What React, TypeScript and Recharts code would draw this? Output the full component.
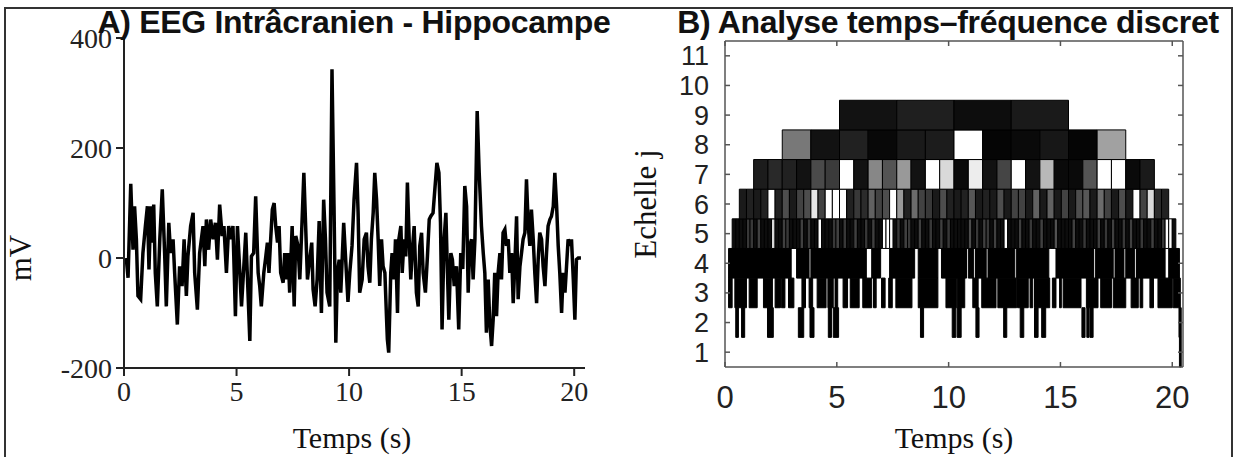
import React from "react";
import {
  LineChart,
  Line,
  ComposedChart,
  Scatter,
  ReferenceArea,
  XAxis,
  YAxis,
} from "recharts";

// A) intracranial EEG, hippocampus (s, mV)
const eegTime = [
  0.1, 0.18, 0.3, 0.4, 0.47, 0.55, 0.62, 0.74, 0.84, 0.95, 1.04, 1.11, 1.19, 1.26, 1.32, 1.39, 1.48,
  1.59, 1.7, 1.81, 1.88, 1.99, 2.07, 2.18, 2.25, 2.37, 2.47, 2.58, 2.67, 2.77, 2.84, 2.96, 3.07, 3.14,
  3.26, 3.36, 3.51, 3.59, 3.66, 3.76, 3.85, 3.96, 4.06, 4.15, 4.25, 4.36, 4.44, 4.55, 4.65, 4.74, 4.84,
  4.95, 5.04, 5.14, 5.22, 5.29, 5.41, 5.47, 5.59, 5.66, 5.76, 5.85, 5.96, 6.03, 6.1, 6.21, 6.3, 6.37,
  6.44, 6.5, 6.59, 6.67, 6.74, 6.82, 6.89, 6.96, 7.07, 7.14, 7.22, 7.29, 7.36, 7.47, 7.56, 7.63, 7.73,
  7.81, 7.88, 7.99, 8.07, 8.15, 8.25, 8.34, 8.4, 8.49, 8.58, 8.67, 8.77, 8.87, 8.95, 9.02, 9.14, 9.24,
  9.33, 9.41, 9.48, 9.56, 9.63, 9.76, 9.88, 9.95, 10.03, 10.13, 10.22, 10.33, 10.4, 10.47, 10.58, 10.67,
  10.77, 10.84, 10.92, 10.99, 11.07, 11.14, 11.22, 11.29, 11.36, 11.44, 11.51, 11.59, 11.66, 11.7,
  11.76, 11.85, 11.91, 12.0, 12.06, 12.15, 12.21, 12.3, 12.36, 12.44, 12.52, 12.59, 12.67, 12.74, 12.8,
  12.89, 12.99, 13.07, 13.14, 13.22, 13.29, 13.39, 13.48, 13.56, 13.63, 13.73, 13.81, 13.9, 13.99,
  14.06, 14.13, 14.22, 14.3, 14.37, 14.43, 14.52, 14.59, 14.67, 14.77, 14.87, 14.96, 15.05, 15.14,
  15.22, 15.29, 15.36, 15.44, 15.51, 15.59, 15.69, 15.78, 15.88, 15.96, 16.03, 16.1, 16.18, 16.25,
  16.33, 16.4, 16.47, 16.55, 16.62, 16.7, 16.77, 16.84, 16.92, 16.99, 17.07, 17.14, 17.22, 17.29,
  17.36, 17.44, 17.51, 17.59, 17.66, 17.73, 17.81, 17.88, 17.96, 18.03, 18.1, 18.18, 18.25, 18.33,
  18.4, 18.47, 18.55, 18.62, 18.7, 18.77, 18.84, 18.92, 18.99, 19.07, 19.14, 19.22, 19.29, 19.36,
  19.44, 19.51, 19.59, 19.66, 19.73, 19.81, 19.88, 19.96, 20.03, 20.1, 20.18, 20.3,
];
const eegMv = [
  0, -36, 135, 15, 94, 34, -69, -75, 9, 58, 94, -21, 94, 28, 97, -27, -88,
  34, 125, 3, -88, 64, 9, 34, -27, -121, -15, -51, 34, -69, 3, 58, 82, -27,
  -94, 9, 58, -15, 70, 15, 70, 34, 64, -3, 97, 40, 58, -27, 58, 34, 58,
  -106, 58, -21, -88, -39, 46, -21, -151, 3, 9, 112, -27, -51, -88, -27, 3, 28,
  -27, 22, 88, 100, 58, 28, 58, -27, -45, 9, -39, 9, -63, 58, -88, 40, 22,
  -39, 34, 155, 58, -39, -3, 28, -57, -88, -39, 67, -100, 106, 34, -63, -88, 343,
  94, -154, -27, -3, -63, 64, -27, -80, -27, 22, 106, 173, 82, -63, -39, 34,
  46, -15, -45, 34, 82, 155, 106, 34, -51, 34, -15, -27, -106, -148,
  -172, -27, 9, -39, 34, -100, 34, 58, -27, 34, 3, 137, 34, -39, 9,
  58, -63, -88, 22, 46, -27, -63, 3, 70, 76, 82, 125, 173, 155,
  64, -130, 34, 82, -27, -112, 9, -3, -51, -15, -130, 9, -20, 131,
  94, -63, 22, 34, -39, 34, 267, 155, 58, 9, -27, -136, -39, -118,
  -160, -112, -27, -106, -27, 9, -39, 46, 52, 22, 34, -27, 9, -82,
  -15, 76, -75, -15, 9, 34, 46, 143, 58, 22, 88, 34, -27, -82,
  -3, 46, 34, -15, -51, 9, 58, 70, 76, 94, 155, 94, 22, -27,
  -100, -27, -63, -15, 34, 22, 34, -39, -112, -3, 0, 0,
];

const timeTicks = [0, 5, 10, 15, 20];
const mvTicks = [-200, 0, 200, 400];
const scaleTicks = [1, 2, 3, 4, 5, 6, 7, 8, 9, 10, 11];

// B) discrete wavelet tiling, grey level per coefficient (0 black .. 1 white), first tile index 2
const fs = 200;
const level9 = [0.07, 0.12, 0.05, 0.1];
const level8 = [0.47, 0.07, 0.13, 0.03, 0.1, 0.11, 1, 0.02, 0.04, 0.09, 0.02, 0.63];
const level7 = [
  0.11, 0.16, 0.13, 0.07, 0.29, 0.23, 1, 0.07, 0.53, 0.33, 0.6, 0.07, 1, 0.85,
  0.04, 0.93, 0.07, 0.27, 1, 0.07, 0.72, 0.04, 0.04, 0.33, 1, 1, 0.04, 0.1,
];
const level6 = [
  0.1, 0.13, 0.1, 0.13, 1, 0.13, 0.3, 0.1, 0.26, 0.3, 0.9, 0.26, 1, 1, 1,
  0.13, 0.22, 0.17, 0.38, 0.26, 0.3, 1, 0.6, 0.13, 0.42, 0.26, 0.22, 0.1, 0.3, 0.13,
  0.1, 0.13, 0.34, 0.1, 0.13, 0.1, 0.3, 0.1, 0.26, 0.26, 0.1, 0.38, 0.1, 0.38, 0.1,
  0.26, 0.1, 0.3, 0.34, 0.1, 0.42, 0.26, 0.1, 0.3, 0.1, 1, 0.26, 0.85, 0.17, 0.13,
];
// level 5: 124 tiles, dark except these [tile index, grey]
const level5Dark = 0.05;
const level5Light = [
  [6, 0.22], [7, 0.22], [9, 0.25], [13, 0.85], [16, 0.25], [17, 0.22], [21, 0.25], [23, 0.22],
  [26, 1], [30, 0.22], [31, 0.25], [33, 0.22], [36, 0.25], [39, 0.22], [41, 0.25], [44, 1],
  [45, 1], [46, 1], [48, 0.22], [50, 0.25], [51, 0.22], [54, 0.25], [57, 0.22], [60, 0.25],
  [62, 0.22], [68, 0.3], [70, 0.22], [72, 0.25], [73, 0.22], [75, 0.25], [78, 1], [82, 0.25],
  [85, 0.22], [88, 0.25], [92, 0.32], [97, 0.25], [100, 0.22], [104, 0.25], [106, 0.22],
  [108, 0.25], [111, 0.22], [113, 0.25], [116, 0.22], [119, 0.25], [122, 0.22], [123, 1], [124, 1],
];
// levels 4..1: black runs [start s, end s]
const level4Runs = [
  [0.16, 2.96], [3.2, 3.76], [3.84, 6.32], [6.56, 6.96], [7.36, 8.48], [8.64, 9.52],
  [9.68, 10.8], [10.88, 11.12], [11.2, 11.68], [11.76, 12.96], [13.04, 14.48], [14.8, 16.48],
  [16.56, 17.36], [17.44, 17.84], [17.92, 18.32], [18.4, 19.68], [19.84, 20.32],
];
const level3Runs = [
  [0.16, 0.32], [0.44, 0.96], [1.08, 1.44], [1.72, 2.12], [2.24, 2.48], [2.52, 2.68],
  [2.84, 3.08], [3.44, 3.6], [3.76, 3.92], [4.12, 4.52], [4.6, 4.84], [4.92, 5.04],
  [5.28, 5.48], [5.6, 6.0], [6.16, 6.56], [6.64, 6.76], [7.0, 7.16], [7.32, 7.48],
  [7.64, 8.36], [8.64, 9.52], [9.88, 10.36], [10.4, 10.72], [11.08, 11.32], [11.48, 12.12],
  [12.2, 13.04], [13.08, 13.56], [13.64, 13.76], [13.84, 14.52], [14.64, 14.8], [14.96, 15.04],
  [15.12, 15.92], [16.16, 16.68], [16.8, 17.28], [17.36, 17.92], [18.16, 18.48], [18.56, 18.68],
  [19.0, 19.16], [19.36, 20.0], [20.04, 20.36],
];
const level2Runs = [
  [0.48, 0.6], [0.74, 0.88], [1.9, 2.16], [3.28, 3.52], [3.8, 3.98], [4.62, 4.76],
  [4.84, 5.08], [8.74, 8.88], [10.16, 10.32], [10.38, 10.56], [11.22, 11.36], [12.46, 12.6],
  [13.2, 13.36], [13.84, 14.0], [14.16, 14.34], [15.96, 16.1], [16.18, 16.28], [16.32, 16.46],
  [20.3, 20.4],
];
const level1Runs = [[20.32, 20.4]];

const eeg = eegTime.map((t, i) => ({ t, v: eegMv[i] }));

type Tile = { level: number; x1: number; x2: number; grey: number; t: number };
const tiles: Tile[] = [];
const addTiles = (level: number, greys: number[]) => {
  const w = 2 ** level / fs;
  greys.forEach((g, i) =>
    tiles.push({ level, x1: (i + 2) * w, x2: (i + 3) * w, grey: g, t: (i + 2.5) * w })
  );
};
const addRuns = (level: number, runs: number[][]) =>
  runs.forEach(([a, b]) => tiles.push({ level, x1: a, x2: b, grey: 0, t: (a + b) / 2 }));

const level5 = Array.from({ length: 124 }, (_, i) => {
  const hit = level5Light.find(([k]) => k === i + 2);
  return hit ? hit[1] : level5Dark;
});

addRuns(1, level1Runs);
addRuns(2, level2Runs);
addRuns(3, level3Runs);
addRuns(4, level4Runs);
addTiles(5, level5);
addTiles(6, level6);
addTiles(7, level7);
addTiles(8, level8);
addTiles(9, level9);

const grey = (g: number) => {
  const c = Math.round(g * 255);
  return `rgb(${c},${c},${c})`;
};

const serif = "'Liberation Serif', 'DejaVu Serif', serif";
const sans = "'Liberation Sans', Arial, sans-serif";

const textBase: React.CSSProperties = {
  position: "absolute",
  whiteSpace: "nowrap",
  color: "#111",
  lineHeight: 1,
};

export default function App() {
  const boxAxis = { stroke: "#555", strokeWidth: 1.5 };
  return (
    <div
      style={{
        position: "fixed",
        left: 0,
        top: 0,
        width: 1238,
        height: 457,
        overflow: "hidden",
        background: "#fff",
      }}
    >
      <div
        style={{
          position: "absolute",
          left: 4,
          top: 7,
          width: 1229,
          height: 520,
          border: "2px solid #333",
          boxSizing: "border-box",
        }}
      />

      <div style={{ position: "absolute", left: 0, top: 0 }}>
        <LineChart
          width={620}
          height={457}
          data={eeg}
          margin={{ top: 38, right: 35, bottom: 29, left: 0 }}
        >
          <XAxis
            dataKey="t"
            type="number"
            domain={[0, 20.48]}
            ticks={timeTicks}
            interval={0}
            height={60}
            tickSize={8}
            tickMargin={5}
            axisLine={{ stroke: "#222", strokeWidth: 2 }}
            tickLine={{ stroke: "#222", strokeWidth: 2 }}
            tick={{ fontFamily: serif, fontSize: 28, fill: "#222" }}
          />
          <YAxis
            type="number"
            domain={[-200, 400]}
            ticks={mvTicks}
            interval={0}
            width={124}
            tickSize={8}
            tickMargin={4}
            axisLine={{ stroke: "#222", strokeWidth: 2 }}
            tickLine={{ stroke: "#222", strokeWidth: 2 }}
            tick={{ fontFamily: serif, fontSize: 28, fill: "#222" }}
          />
          <Line
            type="linear"
            dataKey="v"
            stroke="#000"
            strokeWidth={3.5}
            dot={false}
            isAnimationActive={false}
          />
        </LineChart>
      </div>

      <div style={{ position: "absolute", left: 620, top: 0 }}>
        <ComposedChart
          width={618}
          height={457}
          data={tiles}
          margin={{ top: 40, right: 54, bottom: 30, left: 0 }}
        >
          <XAxis
            xAxisId="b"
            dataKey="t"
            type="number"
            domain={[0, 20.48]}
            ticks={timeTicks}
            interval={0}
            height={60}
            tickSize={-5}
            tickMargin={24}
            axisLine={boxAxis}
            tickLine={boxAxis}
            tick={{ fontFamily: sans, fontSize: 31, fill: "#222" }}
          />
          <XAxis
            xAxisId="t"
            dataKey="t"
            orientation="top"
            type="number"
            domain={[0, 20.48]}
            ticks={timeTicks}
            interval={0}
            height={1}
            tickSize={-5}
            axisLine={boxAxis}
            tickLine={boxAxis}
            tickFormatter={() => ""}
          />
          <YAxis
            yAxisId="l"
            dataKey="level"
            type="number"
            domain={[0.5, 11.5]}
            ticks={scaleTicks}
            interval={0}
            width={105}
            tickSize={-5}
            tickMargin={21}
            axisLine={boxAxis}
            tickLine={boxAxis}
            tick={{ fontFamily: sans, fontSize: 27, fill: "#222" }}
          />
          <YAxis
            yAxisId="r"
            dataKey="level"
            orientation="right"
            type="number"
            domain={[0.5, 11.5]}
            ticks={scaleTicks}
            interval={0}
            width={1}
            tickSize={-5}
            axisLine={boxAxis}
            tickLine={boxAxis}
            tickFormatter={() => ""}
          />
          {tiles.map((t, i) => (
            <ReferenceArea
              key={i}
              xAxisId="b"
              yAxisId="l"
              x1={t.x1}
              x2={t.x2}
              y1={t.level - 0.5}
              y2={t.level + 0.5}
              fill={grey(t.grey)}
              fillOpacity={1}
              stroke="#000"
              strokeWidth={1}
            />
          ))}
          <Scatter
            xAxisId="b"
            yAxisId="l"
            dataKey="level"
            fill="none"
            shape={() => <g />}
            isAnimationActive={false}
          />
          <Scatter
            xAxisId="t"
            yAxisId="r"
            dataKey="level"
            fill="none"
            shape={() => <g />}
            isAnimationActive={false}
          />
        </ComposedChart>
      </div>

      <div
        style={{
          ...textBase,
          left: 354,
          top: 6,
          transform: "translateX(-50%)",
          fontFamily: sans,
          fontWeight: 700,
          fontSize: 32,
          letterSpacing: -0.3,
        }}
      >
        A) EEG Intrâcranien - Hippocampe
      </div>
      <div
        style={{
          ...textBase,
          left: 948,
          top: 6,
          transform: "translateX(-50%)",
          fontFamily: sans,
          fontWeight: 700,
          fontSize: 32,
          letterSpacing: -0.3,
        }}
      >
        B) Analyse temps–fréquence discret
      </div>
      <div
        style={{
          ...textBase,
          left: 352,
          top: 423,
          transform: "translateX(-50%)",
          fontFamily: serif,
          fontSize: 30,
        }}
      >
        Temps (s)
      </div>
      <div
        style={{
          ...textBase,
          left: 954,
          top: 423,
          transform: "translateX(-50%)",
          fontFamily: serif,
          fontSize: 30,
        }}
      >
        Temps (s)
      </div>
      <div
        style={{
          ...textBase,
          left: 20,
          top: 258,
          transform: "translate(-50%, -50%) rotate(-90deg)",
          fontFamily: serif,
          fontSize: 31,
        }}
      >
        mV
      </div>
      <div
        style={{
          ...textBase,
          left: 645,
          top: 204,
          transform: "translate(-50%, -50%) rotate(-90deg)",
          fontFamily: serif,
          fontSize: 31,
        }}
      >
        Echelle j
      </div>
    </div>
  );
}
